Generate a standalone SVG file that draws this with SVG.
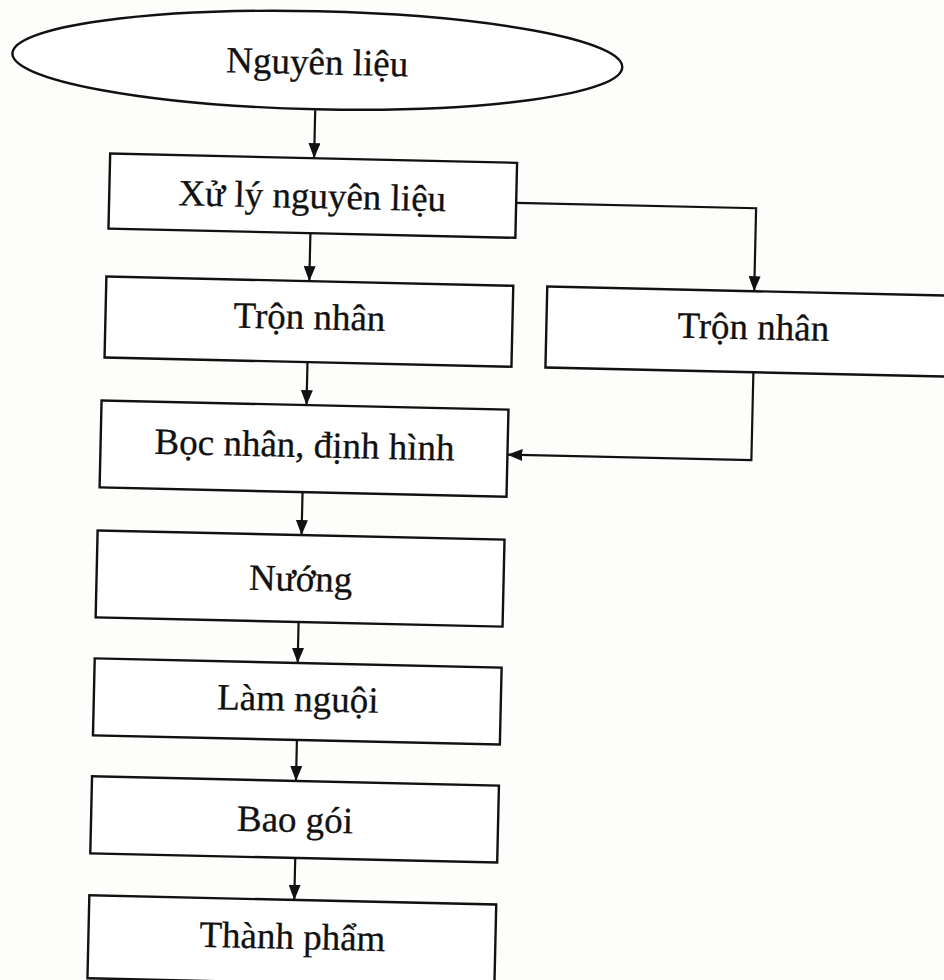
<svg xmlns="http://www.w3.org/2000/svg" width="944" height="980" viewBox="0 0 944 980">
  <defs>
    <marker id="arrow" viewBox="0 0 15 12" markerWidth="15" markerHeight="12" refX="15" refY="6" orient="auto" markerUnits="userSpaceOnUse">
      <path d="M0,0 L15,6 L0,12 z" fill="#111"/>
    </marker>
  </defs>
  <style>
    .shape { fill: #ffffff; stroke: #111; stroke-width: 2.4; }
    .label { font-family: "Liberation Serif", "Times New Roman", serif; font-size: 37px; fill: #111; stroke: #111; stroke-width: 0.3; text-anchor: middle; }
    .conn { fill: none; stroke: #111; stroke-width: 2.2; marker-end: url(#arrow); }
  </style>
  <rect x="0" y="0" width="944" height="980" fill="#fdfdfb"/>
  <g transform="rotate(1.3 300 560)">
    <g id="nguyen-lieu">
      <ellipse class="shape" cx="306" cy="60" rx="305" ry="49"/>
      <text class="label" x="306" y="74">Nguyên liệu</text>
    </g>
    <g id="xu-ly">
      <rect class="shape" x="101" y="158" width="407" height="75"/>
      <text class="label" x="304" y="208">Xử lý nguyên liệu</text>
    </g>
    <g id="tron-nhan-1">
      <rect class="shape" x="100" y="281" width="407" height="81"/>
      <text class="label" x="304" y="329">Trộn nhân</text>
    </g>
    <g id="tron-nhan-2">
      <rect class="shape" x="541" y="281" width="420" height="81"/>
      <text class="label" x="748" y="329">Trộn nhân</text>
    </g>
    <g id="boc-nhan">
      <rect class="shape" x="98" y="405" width="407" height="87"/>
      <text class="label" x="302" y="457">Bọc nhân, định hình</text>
    </g>
    <g id="nuong">
      <rect class="shape" x="97" y="535" width="407" height="87"/>
      <text class="label" x="301" y="591">Nướng</text>
    </g>
    <g id="lam-nguoi">
      <rect class="shape" x="97" y="663" width="407" height="77"/>
      <text class="label" x="301" y="711">Làm nguội</text>
    </g>
    <g id="bao-goi">
      <rect class="shape" x="97" y="781" width="407" height="77"/>
      <text class="label" x="301" y="832">Bao gói</text>
    </g>
    <g id="thanh-pham">
      <rect class="shape" x="97" y="900" width="407" height="83"/>
      <text class="label" x="301" y="949">Thành phẩm</text>
    </g>
    <g id="connectors">
      <path class="conn" d="M305,110 L305,158"/>
      <path class="conn" d="M303,233 L303,281"/>
      <path class="conn" d="M303,362 L303,405"/>
      <path class="conn" d="M301,492 L301,535"/>
      <path class="conn" d="M300,622 L300,663"/>
      <path class="conn" d="M301,740 L301,781"/>
      <path class="conn" d="M302,858 L302,900"/>
      <path class="conn" d="M508,198 L748,198 L748,281"/>
      <path class="conn" d="M749,362 L749,450 L505,450"/>
    </g>
  </g>
</svg>
